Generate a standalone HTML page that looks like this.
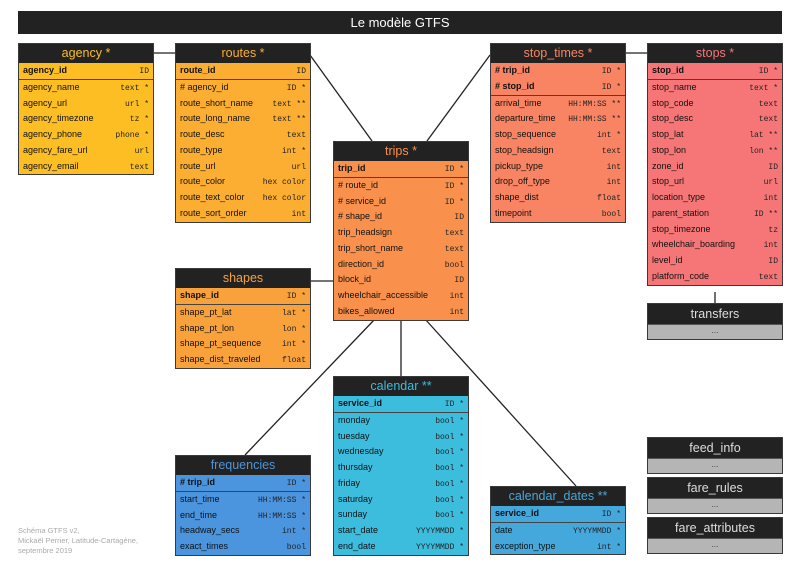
<!DOCTYPE html>
<html><head><meta charset="utf-8"><style>
body{margin:0;width:800px;height:566px;background:#fff;position:relative;overflow:hidden;font-family:"Liberation Sans",sans-serif}
.t{position:absolute;border:1.5px solid #3a3a3a;box-sizing:border-box;background:#222}
.h{height:19px;line-height:19px;text-align:center;font-size:12.5px;background:#222}
.r{height:15.75px;line-height:15.75px;font-size:9px;color:#111;padding:0 4px;display:flex;justify-content:space-between;align-items:baseline;white-space:nowrap}
.r span{font-family:"Liberation Mono",monospace;font-size:8px;font-weight:normal;color:#222}
.pk{font-weight:bold;border-bottom:1.5px solid #444}
.g{height:14px;background:#b5b5b5;text-align:center;font-size:8px;line-height:12px;color:#333;border-top:1.5px solid #555}
svg{position:absolute;left:0;top:0}
</style></head><body>
<svg width="800" height="566"><g stroke="#222" stroke-width="1.3">
<line x1="153" y1="53" x2="175" y2="53"/><line x1="310" y1="55" x2="372" y2="141"/>
<line x1="427" y1="141" x2="490" y2="55"/><line x1="625" y1="53" x2="647" y2="53"/>
<line x1="715" y1="292" x2="715" y2="303"/><line x1="310" y1="281" x2="333" y2="281"/>
<line x1="375" y1="319" x2="245" y2="455"/><line x1="401" y1="319" x2="401" y2="376"/>
<line x1="425" y1="319" x2="576" y2="486"/></g></svg>
<div style="position:absolute;left:18px;top:11px;width:764px;height:23px;background:#222;color:#fff;text-align:center;line-height:23px;font-size:13px">Le modèle GTFS</div>

<div class="t" style="left:18px;top:43px;width:136px;background:#fdbe24"><div class="h" style="color:#fdbe24">agency *</div>
<div class="r pk">agency_id<span>ID</span></div>
<div class="r">agency_name<span>text *</span></div><div class="r">agency_url<span>url *</span></div><div class="r">agency_timezone<span>tz *</span></div><div class="r">agency_phone<span>phone *</span></div><div class="r">agency_fare_url<span>url</span></div><div class="r">agency_email<span>text</span></div></div>

<div class="t" style="left:175px;top:43px;width:136px;background:#fbae31"><div class="h" style="color:#fbae31">routes *</div>
<div class="r pk">route_id<span>ID</span></div>
<div class="r"># agency_id<span>ID *</span></div><div class="r">route_short_name<span>text **</span></div><div class="r">route_long_name<span>text **</span></div><div class="r">route_desc<span>text</span></div><div class="r">route_type<span>int *</span></div><div class="r">route_url<span>url</span></div><div class="r">route_color<span>hex color</span></div><div class="r">route_text_color<span>hex color</span></div><div class="r">route_sort_order<span>int</span></div></div>

<div class="t" style="left:333px;top:141px;width:136px;background:#f9914c"><div class="h" style="color:#f9914c">trips *</div>
<div class="r pk">trip_id<span>ID *</span></div>
<div class="r"># route_id<span>ID *</span></div><div class="r"># service_id<span>ID *</span></div><div class="r"># shape_id<span>ID</span></div><div class="r">trip_headsign<span>text</span></div><div class="r">trip_short_name<span>text</span></div><div class="r">direction_id<span>bool</span></div><div class="r">block_id<span>ID</span></div><div class="r">wheelchair_accessible<span>int</span></div><div class="r">bikes_allowed<span>int</span></div></div>

<div class="t" style="left:490px;top:43px;width:136px;background:#f98463"><div class="h" style="color:#f98463">stop_times *</div>
<div class="r" style="font-weight:bold"># trip_id<span>ID *</span></div><div class="r pk"># stop_id<span>ID *</span></div>
<div class="r">arrival_time<span>HH:MM:SS **</span></div><div class="r">departure_time<span>HH:MM:SS **</span></div><div class="r">stop_sequence<span>int *</span></div><div class="r">stop_headsign<span>text</span></div><div class="r">pickup_type<span>int</span></div><div class="r">drop_off_type<span>int</span></div><div class="r">shape_dist<span>float</span></div><div class="r">timepoint<span>bool</span></div></div>

<div class="t" style="left:647px;top:43px;width:136px;background:#f67678"><div class="h" style="color:#f67678">stops *</div>
<div class="r pk">stop_id<span>ID *</span></div>
<div class="r">stop_name<span>text *</span></div><div class="r">stop_code<span>text</span></div><div class="r">stop_desc<span>text</span></div><div class="r">stop_lat<span>lat **</span></div><div class="r">stop_lon<span>lon **</span></div><div class="r">zone_id<span>ID</span></div><div class="r">stop_url<span>url</span></div><div class="r">location_type<span>int</span></div><div class="r">parent_station<span>ID **</span></div><div class="r">stop_timezone<span>tz</span></div><div class="r">wheelchair_boarding<span>int</span></div><div class="r">level_id<span>ID</span></div><div class="r">platform_code<span>text</span></div></div>

<div class="t" style="left:647px;top:303px;width:136px"><div class="h" style="color:#ddd;height:20px;line-height:20px">transfers</div><div class="g">...</div></div>

<div class="t" style="left:175px;top:268px;width:136px;background:#f9a23b"><div class="h" style="color:#f9a23b">shapes</div>
<div class="r pk">shape_id<span>ID *</span></div>
<div class="r">shape_pt_lat<span>lat *</span></div><div class="r">shape_pt_lon<span>lon *</span></div><div class="r">shape_pt_sequence<span>int *</span></div><div class="r">shape_dist_traveled<span>float</span></div></div>

<div class="t" style="left:333px;top:376px;width:136px;background:#3cbddd"><div class="h" style="color:#3cbddd">calendar **</div>
<div class="r pk">service_id<span>ID *</span></div>
<div class="r">monday<span>bool *</span></div><div class="r">tuesday<span>bool *</span></div><div class="r">wednesday<span>bool *</span></div><div class="r">thursday<span>bool *</span></div><div class="r">friday<span>bool *</span></div><div class="r">saturday<span>bool *</span></div><div class="r">sunday<span>bool *</span></div><div class="r">start_date<span>YYYYMMDD *</span></div><div class="r">end_date<span>YYYYMMDD *</span></div></div>

<div class="t" style="left:175px;top:455px;width:136px;background:#4b94de"><div class="h" style="color:#4b94de">frequencies</div>
<div class="r pk"># trip_id<span>ID *</span></div>
<div class="r">start_time<span>HH:MM:SS *</span></div><div class="r">end_time<span>HH:MM:SS *</span></div><div class="r">headway_secs<span>int *</span></div><div class="r">exact_times<span>bool</span></div></div>

<div class="t" style="left:490px;top:486px;width:136px;background:#45a8dc"><div class="h" style="color:#45a8dc">calendar_dates **</div>
<div class="r pk">service_id<span>ID *</span></div>
<div class="r">date<span>YYYYMMDD *</span></div><div class="r">exception_type<span>int *</span></div></div>

<div class="t" style="left:647px;top:437px;width:136px"><div class="h" style="color:#ddd;height:20px;line-height:20px">feed_info</div><div class="g">...</div></div>
<div class="t" style="left:647px;top:477px;width:136px"><div class="h" style="color:#ddd;height:20px;line-height:20px">fare_rules</div><div class="g">...</div></div>
<div class="t" style="left:647px;top:517px;width:136px"><div class="h" style="color:#ddd;height:20px;line-height:20px">fare_attributes</div><div class="g">...</div></div>

<div style="position:absolute;left:18px;top:526px;font-size:7.5px;line-height:10px;color:#aaa">Schéma GTFS v2,<br>Mickaël Perrier, Latitude-Cartagène,<br>septembre 2019</div>
</body></html>
